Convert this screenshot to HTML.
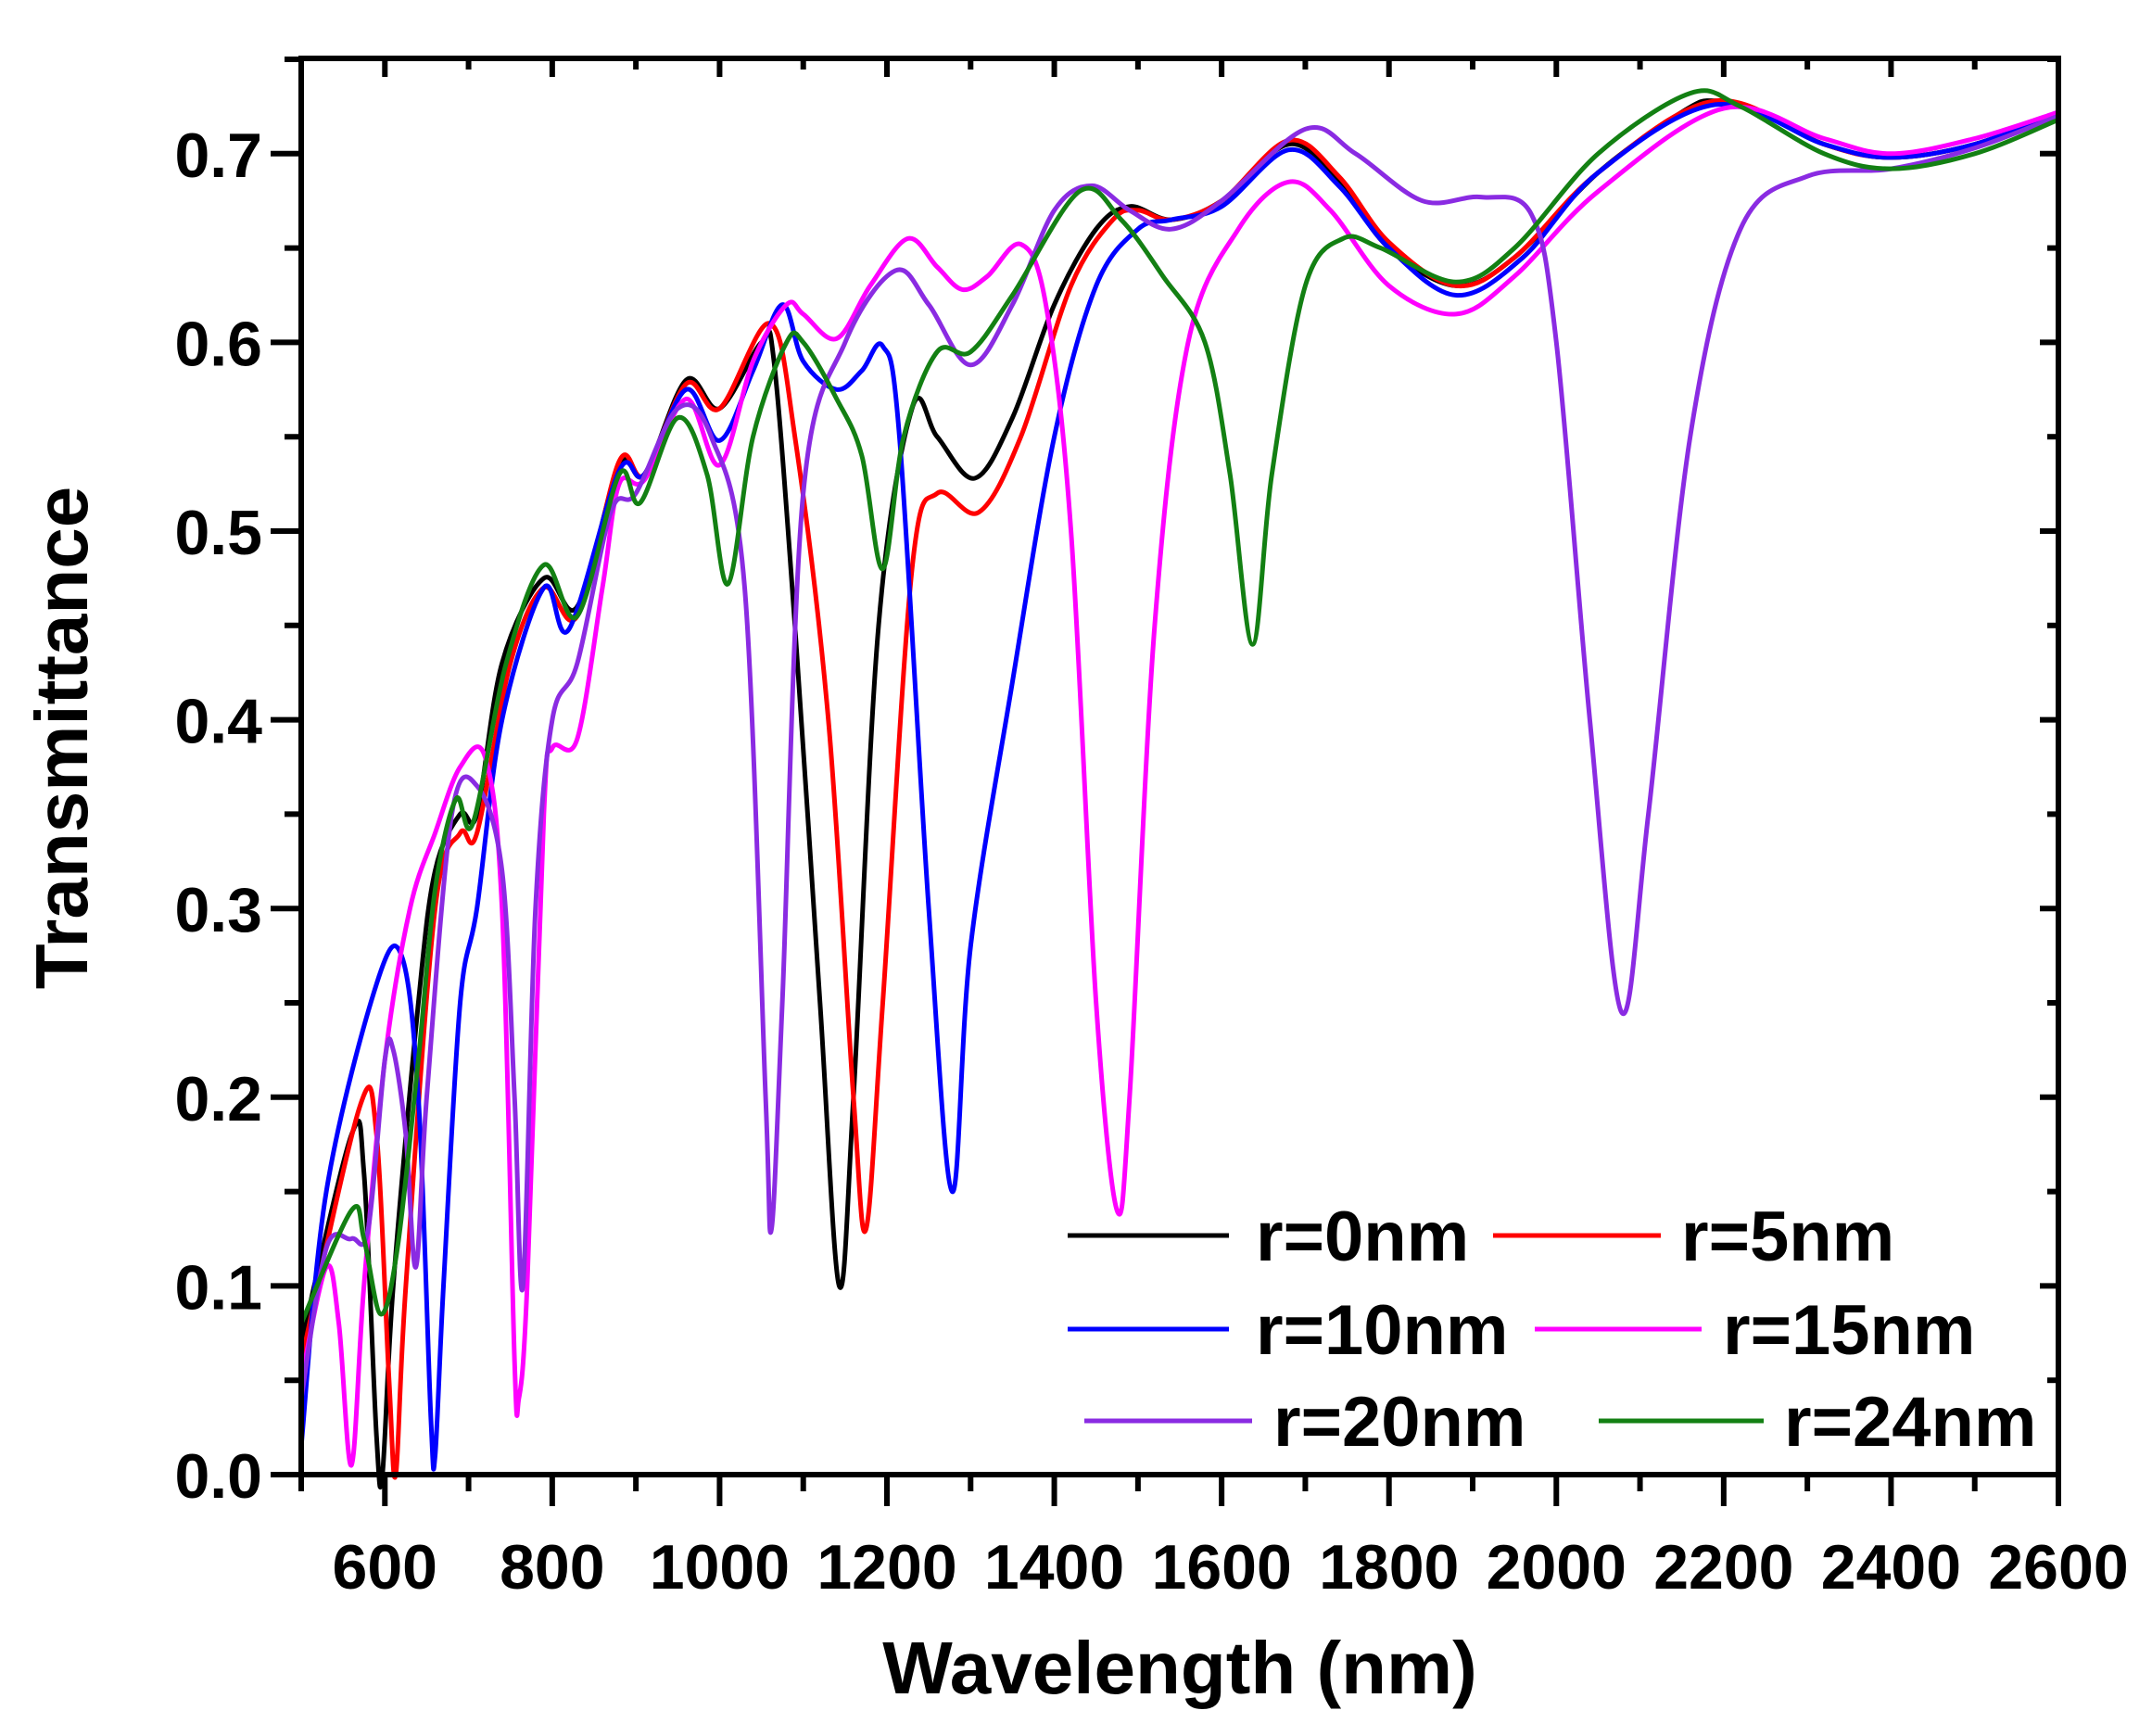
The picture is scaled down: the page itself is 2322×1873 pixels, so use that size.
<!DOCTYPE html>
<html><head><meta charset="utf-8"><style>
html,body{margin:0;padding:0;background:#fff;}
svg{display:block;}
text{font-family:"Liberation Sans",Arial,sans-serif;font-weight:bold;fill:#000;}
</style></head><body>
<svg id="s" width="2322" height="1873" viewBox="0 0 2322 1873" xmlns="http://www.w3.org/2000/svg">
<g id="curves" fill="none" stroke-width="5" stroke-linejoin="round" stroke-linecap="round"></g>
<g id="axes" stroke="#000" stroke-width="6" fill="none"></g>
<g id="labels"></g>
<text x="1273" y="1827" font-size="80" text-anchor="middle">Wavelength (nm)</text>
<text transform="translate(94,796) rotate(-90)" font-size="80" text-anchor="middle">Transmittance</text>
<g stroke-width="5">
<line x1="1152" y1="1333" x2="1326" y2="1333" stroke="#000"/>
<line x1="1611" y1="1333" x2="1792" y2="1333" stroke="#f00"/>
<line x1="1152" y1="1434" x2="1326" y2="1434" stroke="#00f"/>
<line x1="1656" y1="1434" x2="1836" y2="1434" stroke="#f0f"/>
<line x1="1170" y1="1533" x2="1351" y2="1533" stroke="#8a2be2"/>
<line x1="1725" y1="1533" x2="1903" y2="1533" stroke="#138013"/>
</g>
<g font-size="76">
<text x="1355" y="1360">r=0nm</text>
<text x="1814" y="1360">r=5nm</text>
<text x="1355" y="1461">r=10nm</text>
<text x="1859" y="1461">r=15nm</text>
<text x="1374" y="1560">r=20nm</text>
<text x="1925" y="1560">r=24nm</text>
</g>
</svg>
<script>
var X0=325,X1=2221,Y0=1591,YT=63;
function px(nm){return X0+(nm-500)*(X1-X0)/2100;}
function py(t){return Y0-t*2036;}
var data={
"#000":[[500,0.07],[560,0.18],[575,0.16],[590,0.02],[597,0.0],[610,0.1],[640,0.25],[660,0.32],[690,0.35],[710,0.35],[740,0.43],[790,0.475],[830,0.46],[880,0.535],[910,0.53],[960,0.58],[1000,0.565],[1050,0.6],[1065,0.59],[1090,0.45],[1120,0.25],[1143,0.1],[1160,0.2],[1190,0.45],[1230,0.565],[1260,0.55],[1305,0.528],[1350,0.56],[1400,0.62],[1450,0.66],[1490,0.672],[1540,0.665],[1600,0.675],[1680,0.705],[1740,0.685],[1800,0.65],[1880,0.63],[1950,0.645],[2050,0.69],[2150,0.722],[2190,0.728],[2250,0.72],[2320,0.705],[2400,0.698],[2500,0.705],[2600,0.722]],
"#f00":[[500,0.06],[570,0.195],[590,0.18],[605,0.05],[613,0.0],[625,0.1],[660,0.3],[690,0.34],[710,0.34],[750,0.43],[790,0.47],[830,0.455],[880,0.537],[910,0.53],[960,0.578],[1000,0.565],[1060,0.61],[1090,0.55],[1130,0.4],[1160,0.2],[1175,0.13],[1195,0.25],[1230,0.48],[1260,0.52],[1310,0.51],[1360,0.55],[1420,0.63],[1470,0.665],[1500,0.67],[1540,0.665],[1600,0.675],[1680,0.707],[1740,0.688],[1800,0.653],[1880,0.63],[1950,0.645],[2050,0.69],[2190,0.728],[2320,0.705],[2400,0.698],[2500,0.705],[2600,0.722]],
"#00f":[[500,0.015],[530,0.15],[590,0.26],[620,0.275],[640,0.2],[655,0.03],[660,0.01],[670,0.1],[690,0.25],[710,0.3],[740,0.4],[790,0.47],[820,0.448],[880,0.532],[910,0.53],[960,0.575],[1000,0.548],[1040,0.585],[1075,0.62],[1100,0.59],[1140,0.575],[1170,0.585],[1195,0.598],[1215,0.55],[1250,0.3],[1278,0.15],[1300,0.28],[1350,0.42],[1400,0.55],[1450,0.63],[1500,0.66],[1540,0.665],[1600,0.672],[1680,0.702],[1740,0.683],[1800,0.65],[1880,0.625],[1960,0.645],[2050,0.69],[2190,0.726],[2320,0.705],[2400,0.698],[2500,0.705],[2600,0.722]],
"#f0f":[[500,0.05],[530,0.11],[545,0.08],[560,0.005],[575,0.1],[600,0.22],[630,0.3],[660,0.34],[690,0.375],[720,0.38],[740,0.3],[755,0.06],[760,0.04],[770,0.1],[790,0.35],[800,0.385],[830,0.39],[860,0.47],[880,0.525],[910,0.527],[960,0.57],[1000,0.535],[1040,0.59],[1080,0.62],[1100,0.615],[1140,0.602],[1180,0.63],[1225,0.655],[1260,0.64],[1290,0.628],[1320,0.635],[1360,0.652],[1390,0.62],[1420,0.5],[1450,0.25],[1475,0.14],[1490,0.2],[1520,0.45],[1560,0.6],[1620,0.66],[1680,0.685],[1730,0.67],[1800,0.63],[1880,0.615],[1950,0.635],[2050,0.68],[2200,0.724],[2320,0.708],[2400,0.7],[2500,0.708],[2600,0.722]],
"#8a2be2":[[500,0.04],[530,0.12],[560,0.125],[580,0.13],[600,0.22],[610,0.225],[625,0.18],[637,0.11],[650,0.2],[680,0.35],[710,0.365],[740,0.32],[755,0.2],[765,0.1],[780,0.3],[800,0.4],[830,0.43],[870,0.51],[900,0.52],[950,0.565],[990,0.55],[1030,0.47],[1055,0.2],[1062,0.13],[1075,0.25],[1100,0.52],[1150,0.6],[1210,0.638],[1250,0.62],[1300,0.588],[1350,0.62],[1400,0.67],[1445,0.683],[1490,0.67],[1540,0.66],[1600,0.675],[1700,0.713],[1760,0.7],[1840,0.675],[1910,0.677],[1970,0.668],[2000,0.6],[2040,0.4],[2078,0.245],[2110,0.35],[2160,0.55],[2220,0.66],[2300,0.688],[2400,0.692],[2500,0.703],[2600,0.72]],
"#138013":[[500,0.08],[560,0.14],[575,0.125],[595,0.085],[615,0.12],[640,0.22],[660,0.31],[685,0.358],[705,0.345],[745,0.43],[790,0.482],[830,0.455],[880,0.53],[905,0.515],[950,0.56],[985,0.53],[1010,0.472],[1040,0.55],[1080,0.6],[1100,0.6],[1140,0.57],[1170,0.54],[1195,0.48],[1220,0.55],[1260,0.595],[1300,0.595],[1350,0.625],[1430,0.68],[1480,0.665],[1530,0.635],[1580,0.6],[1610,0.53],[1637,0.44],[1660,0.53],[1700,0.63],[1745,0.655],[1790,0.65],[1880,0.632],[1950,0.65],[2050,0.7],[2160,0.732],[2220,0.725],[2320,0.7],[2400,0.692],[2500,0.7],[2600,0.718]]
};
var NS="http://www.w3.org/2000/svg";
function el(p,tag,attrs,txt){var e=document.createElementNS(NS,tag);for(var k in attrs)e.setAttribute(k,attrs[k]);if(txt!==undefined)e.textContent=txt;p.appendChild(e);return e;}
var cg=document.getElementById("curves");
for(var c in data){
  var P=data[c].map(function(d){return [px(d[0]),py(d[1])];});
  var d="M"+P[0][0].toFixed(1)+","+P[0][1].toFixed(1);
  for(var i=0;i<P.length-1;i++){
    var p0=P[i-1]||P[i],p1=P[i],p2=P[i+1],p3=P[i+2]||P[i+1];
    var c1x=p1[0]+(p2[0]-p0[0])/6,c1y=p1[1]+(p2[1]-p0[1])/6;
    var c2x=p2[0]-(p3[0]-p1[0])/6,c2y=p2[1]-(p3[1]-p1[1])/6;
    d+="C"+c1x.toFixed(1)+","+c1y.toFixed(1)+" "+c2x.toFixed(1)+","+c2y.toFixed(1)+" "+p2[0].toFixed(1)+","+p2[1].toFixed(1);
  }
  el(cg,"path",{d:d,stroke:c});
}
var ag=document.getElementById("axes"),lg=document.getElementById("labels");
el(ag,"rect",{x:X0,y:YT,width:X1-X0,height:Y0-YT});
for(var nm=500;nm<=2600;nm+=100){
  var x=px(nm),maj=(nm%200==0);
  el(ag,"line",{x1:x,y1:Y0,x2:x,y2:Y0+(maj?34:18)});
  el(ag,"line",{x1:x,y1:YT,x2:x,y2:YT+(maj?20:12)});
  if(maj) el(lg,"text",{x:x,y:1714,"font-size":68,"text-anchor":"middle"},String(nm));
}
for(var k=0;k<=15;k++){
  var t=k*0.05,y=py(t),maj=(k%2==0);
  el(ag,"line",{x1:X0,y1:y,x2:X0-(maj?33:18),y2:y});
  el(ag,"line",{x1:X1,y1:y,x2:X1-(maj?20:12),y2:y});
  if(maj) el(lg,"text",{x:283,y:y+25,"font-size":68,"text-anchor":"end"},(k/20).toFixed(1));
}
</script>
</body></html>
